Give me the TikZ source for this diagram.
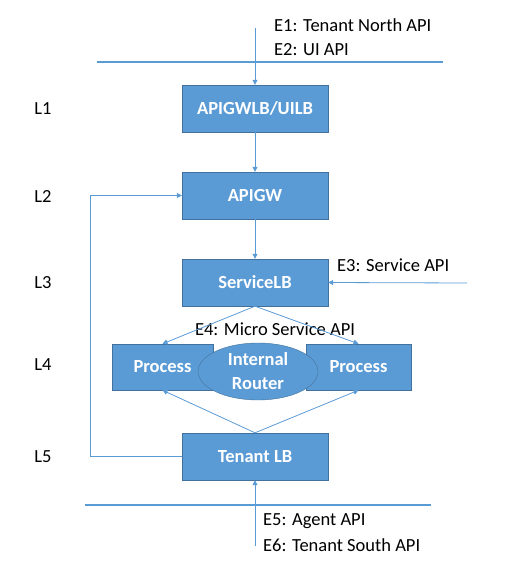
\documentclass[tikz,border=0pt]{standalone}
\usepackage{fontspec}
\setmainfont{Carlito}
\usetikzlibrary{arrows.meta,shapes.geometric}
\definecolor{myblue}{HTML}{5B9BD5}
\definecolor{myedge}{HTML}{41719C}

\begin{document}
\begin{tikzpicture}[%
            x=1pt, y=-1pt,
            font=\fontsize{18.5}{23}\selectfont,
            myblock/.style={shape=rectangle, draw=myedge, fill=myblue, text=white,
                            font=\bfseries\fontsize{18.5}{23}\selectfont,
                            minimum width=146pt, minimum height=47pt, inner sep=0pt},
            mylink/.style={draw=myblue, line width=0.8pt,
                           -{Triangle[width=5pt,length=5pt]}},
            myline/.style={draw=myblue, line width=1.4pt},
            mylabel/.style={anchor=west, inner sep=0pt, align=left}
        ]
        \useasboundingbox (0,0) rectangle (530,575);

        % blocks
        \node [myblock] (lb)      at (255,108.5) {APIGWLB/UILB};
        \node [myblock] (apigw)   at (255,195.5) {APIGW};
        \node [myblock] (svclb)   at (255,282.5) {ServiceLB};
        \node [myblock, minimum width=101pt, minimum height=46pt] (procL) at (162.5,367) {Process};
        \node [myblock, minimum width=105pt, minimum height=46pt] (procR) at (358.5,367) {Process};
        \node [myblock, shape=ellipse, minimum width=120pt, minimum height=57pt,
               align=center, font=\bfseries\fontsize{18.5}{24}\selectfont] (router) at (258,371.5) {Internal\\Router};
        \node [myblock] (tenlb)   at (255,456.5) {Tenant LB};

        % layers
        \path (43,108.5) node (L1) {L1}
              (43,196)   node (L2) {L2}
              (43,283)   node (L3) {L3}
              (43,365)   node (L4) {L4}
              (43,457)   node (L5) {L5};

        % boundaries
        \coordinate (N1) at (97,62);
        \coordinate (N2) at (443,62);
        \coordinate (S1) at (85,505);
        \coordinate (S2) at (431,505);
        \draw [myline] (N1) -- (N2);
        \draw [myline] (S1) -- (S2);

        % entry points
        \coordinate (Nin) at (255,28);
        \coordinate (Ein) at (467,283);
        \coordinate (Sin) at (255,546);
        \node [mylabel] (E1) at (274,25) {E1: Tenant North API};
        \node [mylabel] (E2) at (274,50) {E2: UI API};
        \node [mylabel] (E3) at (337,265) {E3: Service API};
        \node [inner sep=0pt] (E4) at (275,329) {E4: Micro Service API};
        \node [mylabel] (E5) at (263,521) {E5: Agent API};
        \node [mylabel] (E6) at (263,545) {E6: Tenant South API};

        % links
        \draw [mylink] (Nin) -- (lb);
        \draw [mylink] (lb) -- (apigw);
        \draw [mylink] (apigw) -- (svclb);
        \draw [mylink] (Ein) -- (svclb.east);
        \draw [mylink] (svclb.south) -- (procL.north);
        \draw [mylink] (svclb.south) -- (procR.north);
        \draw [mylink] (tenlb.north) -- (procL.south);
        \draw [mylink] (tenlb.north) -- (procR.south);
        \draw [mylink] (Sin) -- (tenlb);
        \draw [mylink] (tenlb.west) -- ++(-91,0) |- (apigw.west);
    \end{tikzpicture}
\end{document}
